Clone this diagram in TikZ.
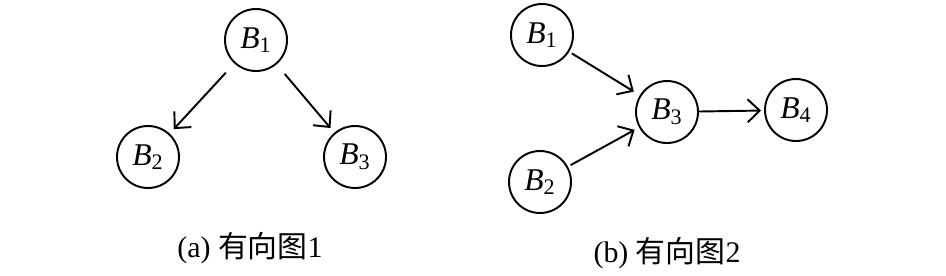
\documentclass[tikz,border=0pt]{standalone}
\usepackage{fontspec}
\setmainfont{Liberation Serif}
\newfontfamily\cjk{Noto Sans CJK SC}
\usetikzlibrary{arrows.meta}

\begin{document}
\begin{tikzpicture}[
    state/.style={circle, draw=black, line width=1.1pt, minimum size=1.24cm, inner sep=0pt, font=\fontsize{18}{20}\selectfont},
    arrow/.style={-{Straight Barb[length=2.4mm, width=4.6mm]}, line width=1.1pt},
    caption/.style={font=\fontsize{17}{20}\selectfont}
]
\useasboundingbox (0,0) rectangle (18.92,-5.5);

% (a)
\node[state] (a1) at (5.12,-0.80) {\textit{B}\textsubscript{1}};
\node[state] (a2) at (2.96,-3.14) {\textit{B}\textsubscript{2}};
\node[state] (a3) at (7.10,-3.14) {\textit{B}\textsubscript{3}};
\node[caption] (capa) at (5.0,-4.96) {(a) {\cjk 有向图}1};

\draw[arrow, shorten <=0.25cm, shorten >=0.12cm] (a1) -- (a2);
\draw[arrow, shorten <=0.25cm, shorten >=0.12cm] (a1) -- (a3);

% (b)
\node[state] (b1) at (10.84,-0.70) {\textit{B}\textsubscript{1}};
\node[state] (b2) at (10.80,-3.64) {\textit{B}\textsubscript{2}};
\node[state] (b3) at (13.34,-2.24) {\textit{B}\textsubscript{3}};
\node[state] (b4) at (15.92,-2.20) {\textit{B}\textsubscript{4}};
\node[caption] (capb) at (13.34,-5.06) {(b) {\cjk 有向图}2};

\draw[arrow, shorten <=0.06cm, shorten >=0.14cm] (b1) -- (b3);
\draw[arrow, shorten <=0.06cm, shorten >=0.10cm] (b2) -- (b3);
\draw[arrow, shorten >=0.06cm] (b3) -- (b4);

\end{tikzpicture}
\end{document}
